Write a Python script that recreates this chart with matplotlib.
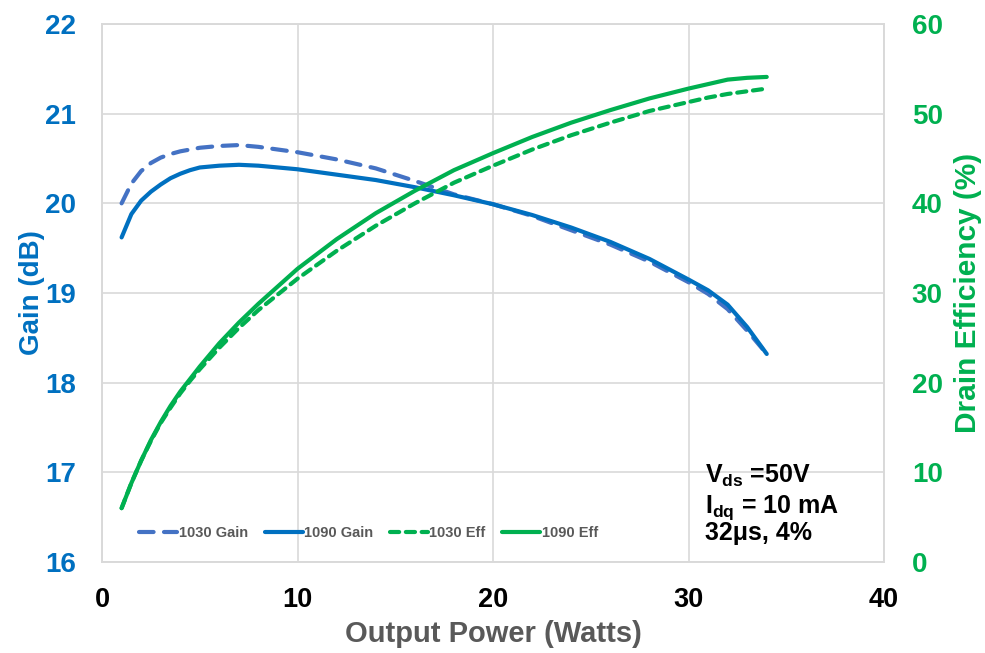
import matplotlib
matplotlib.use("Agg")
import matplotlib.pyplot as plt

plt.rcParams['font.family'] = ['Liberation Sans', 'DejaVu Sans']
plt.rcParams['font.weight'] = 'bold'
plt.rcParams['mathtext.fontset'] = 'custom'
plt.rcParams['mathtext.rm'] = 'Liberation Sans:bold'
plt.rcParams['mathtext.bf'] = 'Liberation Sans:bold'
plt.rcParams['mathtext.it'] = 'Liberation Sans:bold'

# output power (W)
power = [1, 1.5, 2, 2.5, 3, 3.5, 4, 4.5, 5, 6, 7, 8, 10, 12, 14, 16, 18, 20, 22, 24, 26, 28, 30, 31, 32, 33, 34]

# gain (dB)
gain_1030 = [20.0, 20.22, 20.36, 20.45, 20.51, 20.55, 20.58, 20.60, 20.62, 20.64, 20.65, 20.63, 20.57, 20.49,
             20.39, 20.25, 20.10, 19.99, 19.86, 19.70, 19.54, 19.35, 19.12, 18.99, 18.82, 18.58, 18.32]
gain_1090 = [19.62, 19.88, 20.03, 20.13, 20.21, 20.28, 20.33, 20.37, 20.40, 20.42, 20.43, 20.42, 20.38, 20.32,
             20.26, 20.18, 20.09, 19.99, 19.87, 19.73, 19.57, 19.38, 19.15, 19.03, 18.87, 18.62, 18.32]

# drain efficiency (%)
eff_1030 = [6.0, 8.8, 11.3, 13.5, 15.5, 17.2, 18.8, 20.2, 21.5, 23.9, 26.1, 28.1, 31.6, 34.7, 37.5,
            40.0, 42.3, 44.2, 46.0, 47.6, 49.0, 50.3, 51.3, 51.8, 52.2, 52.5, 52.8]
eff_1090 = [6.0, 8.8, 11.3, 13.6, 15.6, 17.4, 19.0, 20.4, 21.8, 24.4, 26.7, 28.8, 32.7, 36.0, 38.9,
            41.4, 43.7, 45.6, 47.4, 49.0, 50.4, 51.7, 52.8, 53.3, 53.8, 54.0, 54.1]

blue_d = '#4472C4'
blue = '#0070C0'
green = '#00B050'
grid_c = '#D9D9D9'

fig = plt.figure(figsize=(9.85, 6.53), dpi=100)
ax = fig.add_axes([0.1036, 0.1394, 0.7939, 0.8238])
ax2 = ax.twinx()

l1, = ax.plot(power, gain_1030, color=blue_d, lw=3, ls=(0, (3.5, 2.5)), dash_capstyle='round', label='1030 Gain')
l2, = ax.plot(power, gain_1090, color=blue, lw=3, solid_capstyle='round', label='1090 Gain')
l3, = ax2.plot(power, eff_1030, color=green, lw=3, ls=(0, (2.2, 1.6)), dash_capstyle='round', label='1030 Eff')
l4, = ax2.plot(power, eff_1090, color=green, lw=3, solid_capstyle='round', label='1090 Eff')

ax.set_xlim(0, 40)
ax.set_ylim(16, 22)
ax2.set_ylim(0, 60)
ax.set_xticks(range(0, 41, 10))
ax.set_yticks(range(16, 23))
ax2.set_yticks(range(0, 61, 10))

ax.grid(True, color=grid_c, lw=1.2)
ax.set_axisbelow(True)
for a in (ax, ax2):
    for s in a.spines.values():
        s.set_color(grid_c)
        s.set_linewidth(1.2)

ax.tick_params(axis='x', length=0, pad=18, labelsize=19.5, labelcolor='black')
ax.tick_params(axis='y', length=0, pad=19, labelsize=20, labelcolor=blue)
ax2.tick_params(axis='y', length=0, pad=20, labelsize=20, labelcolor=green)

ax.set_xlabel('Output Power (Watts)', fontsize=21, color='#595959', fontweight='bold', labelpad=5)
ax.set_ylabel('Gain (dB)', fontsize=20, color=blue, fontweight='bold', labelpad=0)
ax2.set_ylabel('Drain Efficiency (%)', fontsize=21.5, color=green, fontweight='bold', labelpad=8)

leg = ax.legend(handles=[l1, l2, l3, l4], loc='center', bbox_to_anchor=(0.341, 0.054), ncol=4,
                frameon=False, fontsize=10.5, handlelength=2.6, handletextpad=0.1, columnspacing=1.15)
for t in leg.get_texts():
    t.set_color('#595959')

ax.text(0.771, 0.147, r'V$_{\rm ds}$ =50V', transform=ax.transAxes, fontsize=18, fontweight='bold')
ax.text(0.771, 0.091, r'I$_{\rm dq}$ = 10 mA', transform=ax.transAxes, fontsize=18, fontweight='bold')
ax.text(0.771, 0.041, '32\u03bcs, 4%', transform=ax.transAxes, fontsize=18, fontweight='bold')

fig.savefig('out.png', dpi=100)
